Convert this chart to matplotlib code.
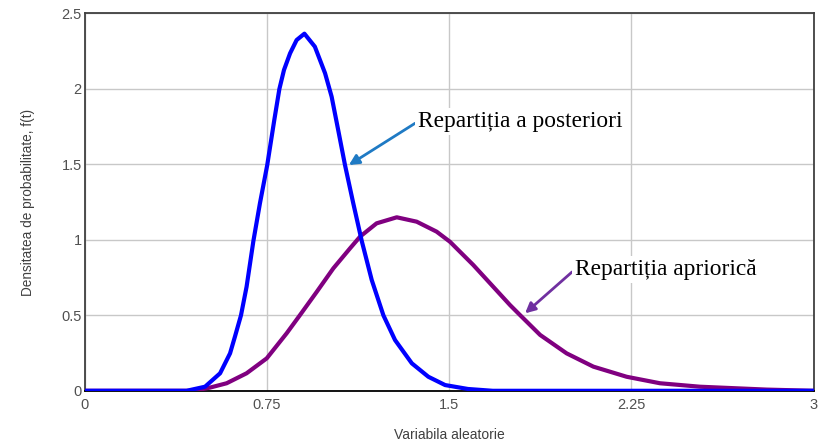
import numpy as np
import matplotlib
matplotlib.use("Agg")
import matplotlib.pyplot as plt

# posterior density (blue)
post_x = [0.0, 0.42, 0.496, 0.558, 0.599, 0.619, 0.644, 0.667, 0.695, 0.722, 0.752,
          0.781, 0.802, 0.821, 0.846, 0.873, 0.905, 0.948, 0.990, 1.017, 1.044,
          1.072, 1.106, 1.141, 1.182, 1.230, 1.278, 1.347, 1.415, 1.484, 1.578,
          1.68, 3.0]
post_y = [0.0, 0.0, 0.027, 0.116, 0.248, 0.358, 0.50, 0.689, 0.992, 1.242, 1.495,
          1.793, 1.999, 2.125, 2.235, 2.323, 2.365, 2.279, 2.103, 1.948, 1.727,
          1.495, 1.242, 0.992, 0.734, 0.50, 0.336, 0.182, 0.093, 0.038, 0.012,
          0.0, 0.0]

# prior density (purple)
prior_x = [0.0, 0.45, 0.516, 0.585, 0.667, 0.75, 0.832, 0.887, 0.956, 1.024, 1.093,
           1.134, 1.202, 1.285, 1.367, 1.449, 1.504, 1.60, 1.751, 1.792, 1.875,
           1.984, 2.094, 2.231, 2.368, 2.533, 2.807, 3.0]
prior_y = [0.0, 0.0, 0.021, 0.05, 0.116, 0.215, 0.381, 0.502, 0.656, 0.811, 0.944,
           1.021, 1.109, 1.149, 1.12, 1.054, 0.987, 0.833, 0.568, 0.502, 0.37,
           0.248, 0.16, 0.093, 0.05, 0.027, 0.008, 0.0]

x_ticks = [0, 0.75, 1.5, 2.25, 3]
x_tick_labels = ["0", "0.75", "1.5", "2.25", "3"]
y_ticks = [0, 0.5, 1, 1.5, 2, 2.5]
y_tick_labels = ["0", "0.5", "1", "1.5", "2", "2.5"]

fig = plt.figure(figsize=(8.25, 4.41), dpi=100)
ax = fig.add_axes([84.5 / 825, 1 - 390.8 / 441, 729 / 825, 377.5 / 441])

ax.plot(prior_x, prior_y, color="#800080", lw=3, solid_joinstyle="round", zorder=3)
ax.plot(post_x, post_y, color="#0000ff", lw=3, solid_joinstyle="round", zorder=4)

ax.set_xlim(0, 3)
ax.set_ylim(0, 2.5)
ax.set_xticks(x_ticks)
ax.set_xticklabels(x_tick_labels)
ax.set_yticks(y_ticks)
ax.set_yticklabels(y_tick_labels)
ax.tick_params(length=0, labelsize=10.5, labelcolor="#505050")
ax.tick_params(axis="x", pad=5)
ax.tick_params(axis="y", pad=2)
for lab in ax.get_xticklabels() + ax.get_yticklabels():
    lab.set_fontfamily("Liberation Sans")

ax.grid(True, color="#c8c8c8", lw=1)
ax.set_axisbelow(True)
for side in ["top", "left", "right"]:
    ax.spines[side].set_color("#404040")
    ax.spines[side].set_linewidth(1.3)
ax.spines["bottom"].set_color("black")
ax.spines["bottom"].set_linewidth(1.3)

ax.set_xlabel("Variabila aleatorie", fontsize=10, family="Liberation Sans",
              color="#404040", labelpad=12)
ax.set_ylabel("Densitatea de probabilitate, f(t)", fontsize=9.8, family="Liberation Sans",
              color="#404040", labelpad=19)

box = dict(boxstyle="square,pad=0.12", fc="white", ec="none")
ax.annotate("Repartiția a posteriori", xy=(1.088, 1.495), xytext=(1.372, 1.747),
            fontsize=16.8, family="Liberation Serif", va="baseline", ha="left", bbox=box,
            arrowprops=dict(arrowstyle="-|>", color="#1f7ac4", lw=2, mutation_scale=15,
                            shrinkA=0, shrinkB=0, relpos=(0, 0.5)), zorder=5)
ax.annotate("Repartiția apriorică", xy=(1.813, 0.513), xytext=(2.018, 0.767),
            fontsize=16.8, family="Liberation Serif", va="baseline", ha="left", bbox=box,
            arrowprops=dict(arrowstyle="-|>", color="#7030a0", lw=2, mutation_scale=15,
                            shrinkA=0, shrinkB=0, relpos=(0, 0.5)), zorder=5)

fig.savefig("out.png", dpi=100)
